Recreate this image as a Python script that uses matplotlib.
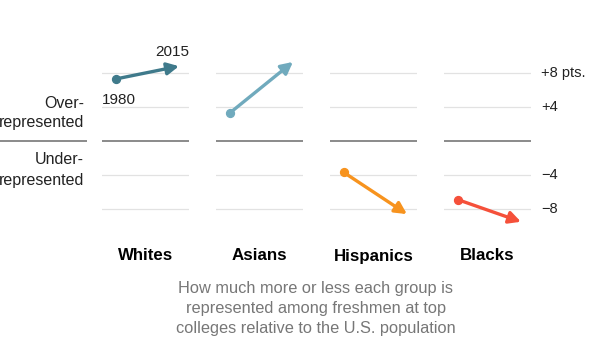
import numpy as np
import matplotlib
matplotlib.use('Agg')
import matplotlib.pyplot as plt

plt.rcParams['font.family'] = ['Liberation Sans', 'DejaVu Sans']

# datos (puntos sobre/bajo representacion)
grupos = ['Whites', 'Asians', 'Hispanics', 'Blacks']
anios = [1980, 2015]
valores_1980 = [7.3, 3.3, -3.7, -6.9]
valores_2015 = [8.8, 9.3, -8.6, -9.5]
colores = ['#3f7a8b', '#70aabd', '#f7931e', '#f5503a']
ticks_y = [8, 4, -4, -8]
etiquetas_y = ['+8 pts.', '+4', '\u22124', '\u22128']

W, H = 600, 353
fig = plt.figure(figsize=(W / 100, H / 100), dpi=100)

# posicion de cada panel en pixeles
izq = [102, 216, 330, 444]
ancho = 87
arriba, abajo = 47.5, 234.5


def caja(x0, x1, y0, y1):
    return [x0 / W, 1 - y1 / H, (x1 - x0) / W, (y1 - y0) / H]


for i, g in enumerate(grupos):
    ax = fig.add_axes(caja(izq[i], izq[i] + ancho, arriba, abajo))
    ax.set_xlim(1972.3, 2020.6)
    ax.set_ylim(-11, 11)
    ax.axis('off')
    for t in ticks_y:
        ax.axhline(t, color='#e2e2e2', lw=0.9, zorder=0)
    ax.axhline(0, color='#777777', lw=1.2, zorder=0)
    ax.annotate('', xy=(anios[1], valores_2015[i]), xytext=(anios[0], valores_1980[i]),
                arrowprops=dict(arrowstyle='-|>,head_length=0.7,head_width=0.36',
                                color=colores[i], lw=2.4, shrinkA=0, shrinkB=0))
    ax.scatter([anios[0]], [valores_1980[i]], s=32, color=colores[i], zorder=3)
    fig.text((izq[i] + ancho / 2) / W, 1 - 256 / H, g, ha='center', va='center',
             fontsize=12.2, fontweight='bold', color='black')
    if i == 0:
        ax.text(anios[0] - 7.8, valores_1980[i] - 2.5, '1980', ha='left', va='center',
                fontsize=11, color='#222222')
        ax.text(anios[1] + 5.5, valores_2015[i] + 1.7, '2015', ha='right', va='center',
                fontsize=11, color='#222222')
    if i == 3:
        for t, lab in zip(ticks_y, etiquetas_y):
            ax.text(1.12, t, lab, transform=ax.get_yaxis_transform(), ha='left',
                    va='center', fontsize=10.5, color='#222222')

# columna de etiquetas a la izquierda
axl = fig.add_axes(caja(0, 87, arriba, abajo))
axl.set_xlim(0, 87)
axl.set_ylim(-11, 11)
axl.axis('off')
axl.axhline(0, color='#777777', lw=1.2)
for lab, ypx in [('Over-', 103), ('represented', 123), ('Under-', 159), ('represented', 180)]:
    axl.text(84, (141 - ypx) / 8.5, lab, ha='right', va='center', fontsize=11.5,
             color='#222222', clip_on=False)

nota = ['How much more or less each group is',
        'represented among freshmen at top',
        'colleges relative to the U.S. population']
for k, linea in enumerate(nota):
    fig.text(316 / W, 1 - (288 + 20 * k) / H, linea, ha='center', va='center',
             fontsize=11.8, color='#777777')

fig.savefig('out.png', dpi=100)
